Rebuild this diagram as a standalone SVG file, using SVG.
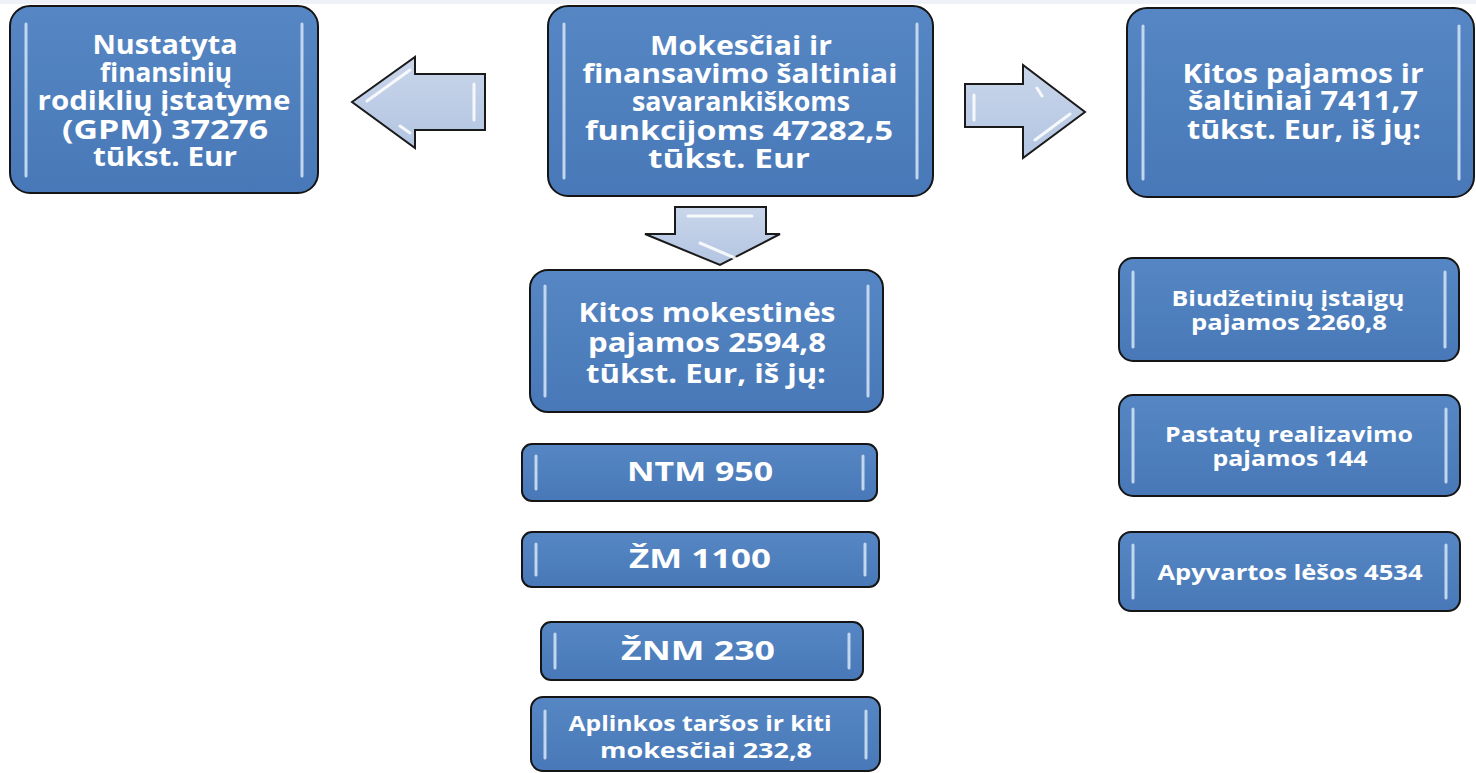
<svg xmlns="http://www.w3.org/2000/svg" width="1476" height="773" viewBox="0 0 1476 773">
<defs>
<linearGradient id="bg" x1="0" y1="0" x2="0" y2="1">
<stop offset="0" stop-color="#5687c4"/>
<stop offset="1" stop-color="#4878b7"/>
</linearGradient>
<linearGradient id="ag" x1="0" y1="0" x2="0" y2="1">
<stop offset="0" stop-color="#c9d6ea"/>
<stop offset="1" stop-color="#b3c5e2"/>
</linearGradient>
<style>
.box{fill:url(#bg);stroke:#151515;stroke-width:2}
.hl{stroke:#cfe0f4;stroke-width:3;stroke-linecap:round;opacity:0.9}
.arr{fill:url(#ag);stroke:#1a1a1a;stroke-width:2;stroke-linejoin:miter}
.ahl{fill:none;stroke:#ffffff;stroke-width:3;stroke-linecap:round;opacity:0.85}
text{font-family:"Open Sans","Liberation Sans",sans-serif;font-weight:bold;fill:#ffffff;text-anchor:middle}
.t26{font-size:27px}
.t28{font-size:27px}
.t21{font-size:22px}
.t19{font-size:21px}
</style>
</defs>
<rect x="0" y="0" width="1476" height="773" fill="#ffffff"/>
<rect x="0" y="0" width="1476" height="4" fill="#eef2f8"/>

<g id="connectors">
<g id="arrow-left">
<polygon class="arr" points="352,102 415,57 415,74 485,74 485,130 415,130 415,148"/>
<path class="ahl" d="M367,101 L410,70 M474,84 L474,120 M410,133 L400,126"/>
</g>
<g id="arrow-down">
<polygon class="arr" points="675,207 766,207 766,234 780,234 720,265 645,234 675,234"/>
<path class="ahl" d="M688,216 L752,216 M700,243 L735,258"/>
</g>
<g id="arrow-right">
<polygon class="arr" points="965,84 1023,84 1023,65 1085,112 1023,158 1023,127 965,127"/>
<path class="ahl" d="M974,95 L974,120 M1035,140 L1070,114 M1037,88 L1042,96"/>
</g>
</g>

<g id="node-gpm">
<rect class="box" x="10" y="6" width="308" height="187" rx="20"/>
<line class="hl" x1="26" y1="24" x2="26" y2="176"/>
<line class="hl" x1="302" y1="24" x2="302" y2="176"/>
<text class="t26" x="165" y="54" textLength="145" lengthAdjust="spacingAndGlyphs">Nustatyta</text>
<text class="t26" x="166" y="82" textLength="132" lengthAdjust="spacingAndGlyphs">finansinių</text>
<text class="t26" x="164" y="110" textLength="253" lengthAdjust="spacingAndGlyphs">rodiklių įstatyme</text>
<text class="t26" x="165" y="139" textLength="206" lengthAdjust="spacingAndGlyphs">(GPM) 37276</text>
<text class="t26" x="165" y="166" textLength="144" lengthAdjust="spacingAndGlyphs">tūkst. Eur</text>
</g>

<g id="node-center">
<rect class="box" x="548" y="6" width="385" height="190" rx="20"/>
<line class="hl" x1="564" y1="24" x2="564" y2="178"/>
<line class="hl" x1="917" y1="24" x2="917" y2="178"/>
<text class="t26" x="741" y="55" textLength="182" lengthAdjust="spacingAndGlyphs">Mokesčiai ir</text>
<text class="t26" x="740" y="83" textLength="315" lengthAdjust="spacingAndGlyphs">finansavimo šaltiniai</text>
<text class="t26" x="741" y="111" textLength="218" lengthAdjust="spacingAndGlyphs">savarankiškoms</text>
<text class="t26" x="739" y="140" textLength="308" lengthAdjust="spacingAndGlyphs">funkcijoms 47282,5</text>
<text class="t26" x="729" y="168" textLength="162" lengthAdjust="spacingAndGlyphs">tūkst. Eur</text>
</g>

<g id="node-kitos-pajamos">
<rect class="box" x="1127" y="8" width="347" height="189" rx="20"/>
<line class="hl" x1="1143" y1="26" x2="1143" y2="179"/>
<line class="hl" x1="1459" y1="26" x2="1459" y2="179"/>
<text class="t26" x="1303" y="83" textLength="241" lengthAdjust="spacingAndGlyphs">Kitos pajamos ir</text>
<text class="t26" x="1303" y="110" textLength="230" lengthAdjust="spacingAndGlyphs">šaltiniai 7411,7</text>
<text class="t26" x="1304" y="139" textLength="234" lengthAdjust="spacingAndGlyphs">tūkst. Eur, iš jų:</text>
</g>

<g id="node-kitos-mokestines">
<rect class="box" x="530" y="270" width="353" height="142" rx="18"/>
<line class="hl" x1="545" y1="286" x2="545" y2="396"/>
<line class="hl" x1="868" y1="286" x2="868" y2="396"/>
<text class="t26" x="707" y="322" textLength="257" lengthAdjust="spacingAndGlyphs">Kitos mokestinės</text>
<text class="t26" x="707" y="352" textLength="238" lengthAdjust="spacingAndGlyphs">pajamos 2594,8</text>
<text class="t26" x="706" y="383" textLength="240" lengthAdjust="spacingAndGlyphs">tūkst. Eur, iš jų:</text>
</g>

<g id="node-ntm">
<rect class="box" x="522" y="444" width="355" height="57" rx="10"/>
<line class="hl" x1="536" y1="456" x2="536" y2="489"/>
<line class="hl" x1="863" y1="456" x2="863" y2="489"/>
<text class="t28" x="700" y="481" textLength="146" lengthAdjust="spacingAndGlyphs">NTM 950</text>
</g>

<g id="node-zm">
<rect class="box" x="522" y="532" width="357" height="55" rx="10"/>
<line class="hl" x1="536" y1="544" x2="536" y2="575"/>
<line class="hl" x1="865" y1="544" x2="865" y2="575"/>
<text class="t28" x="700" y="568" textLength="142" lengthAdjust="spacingAndGlyphs">ŽM 1100</text>
</g>

<g id="node-znm">
<rect class="box" x="541" y="622" width="322" height="58" rx="10"/>
<line class="hl" x1="555" y1="634" x2="555" y2="668"/>
<line class="hl" x1="849" y1="634" x2="849" y2="668"/>
<text class="t28" x="698" y="660" textLength="154" lengthAdjust="spacingAndGlyphs">ŽNM 230</text>
</g>

<g id="node-aplinkos">
<rect class="box" x="531" y="697" width="349" height="74" rx="12"/>
<line class="hl" x1="545" y1="711" x2="545" y2="758"/>
<line class="hl" x1="866" y1="711" x2="866" y2="758"/>
<text class="t21" x="700" y="731" textLength="263" lengthAdjust="spacingAndGlyphs">Aplinkos taršos ir kiti</text>
<text class="t21" x="706" y="758" textLength="212" lengthAdjust="spacingAndGlyphs">mokesčiai 232,8</text>
</g>

<g id="node-biudzetiniu">
<rect class="box" x="1119" y="258" width="340" height="103" rx="14"/>
<line class="hl" x1="1133" y1="272" x2="1133" y2="347"/>
<line class="hl" x1="1445" y1="272" x2="1445" y2="347"/>
<text class="t19" x="1288" y="306" textLength="233" lengthAdjust="spacingAndGlyphs">Biudžetinių įstaigų</text>
<text class="t19" x="1289" y="330" textLength="196" lengthAdjust="spacingAndGlyphs">pajamos 2260,8</text>
</g>

<g id="node-pastatu">
<rect class="box" x="1119" y="395" width="341" height="101" rx="14"/>
<line class="hl" x1="1133" y1="409" x2="1133" y2="482"/>
<line class="hl" x1="1446" y1="409" x2="1446" y2="482"/>
<text class="t19" x="1289" y="442" textLength="248" lengthAdjust="spacingAndGlyphs">Pastatų realizavimo</text>
<text class="t19" x="1290" y="466" textLength="155" lengthAdjust="spacingAndGlyphs">pajamos 144</text>
</g>

<g id="node-apyvartos">
<rect class="box" x="1119" y="532" width="341" height="79" rx="12"/>
<line class="hl" x1="1133" y1="545" x2="1133" y2="598"/>
<line class="hl" x1="1446" y1="545" x2="1446" y2="598"/>
<text class="t19" x="1290" y="580" textLength="265" lengthAdjust="spacingAndGlyphs">Apyvartos lėšos 4534</text>
</g>
</svg>
